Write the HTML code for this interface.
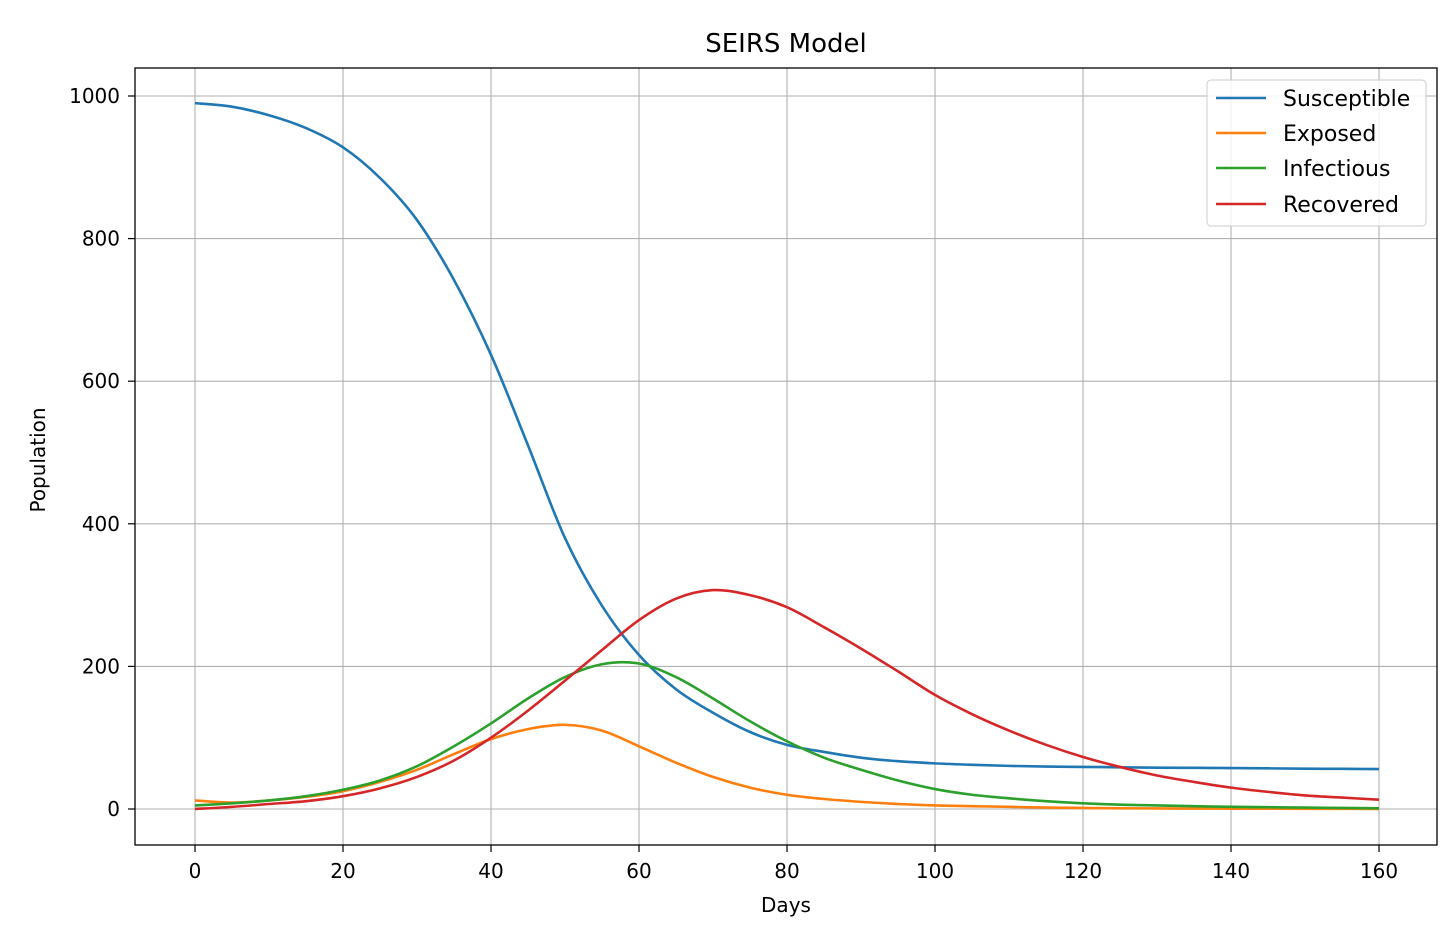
<!DOCTYPE html>
<html><head><meta charset="utf-8"><style>
body{margin:0;background:#fff}
svg text{font-family:"DejaVu Sans","Liberation Sans",sans-serif;fill:#000}
</style></head><body>
<svg id="s" width="1450" height="925" xmlns="http://www.w3.org/2000/svg">
<rect width="1450" height="925" fill="#fff"/>
<g id="grid" stroke="#b0b0b0" stroke-width="1.1"></g>
<g id="curves" fill="none" stroke-width="2.6"></g>
<rect x="135" y="68" width="1302" height="777" fill="none" stroke="#000" stroke-width="1.3"/>
<g id="ticks" stroke="#000" stroke-width="1.2"></g>
<g id="labels" font-size="20"></g>
<text x="786" y="52" font-size="26" text-anchor="middle">SEIRS Model</text>
<text x="786" y="912" font-size="20" text-anchor="middle">Days</text>
<text transform="translate(45,460) rotate(-90)" font-size="20" text-anchor="middle">Population</text>
<g>
<rect x="1207" y="80" width="219" height="146" rx="4" fill="#fff" fill-opacity="0.85" stroke="#ccc"/>
<line x1="1216" y1="98" x2="1266" y2="98" stroke="#1f77b4" stroke-width="2.6"/>
<line x1="1216" y1="133" x2="1266" y2="133" stroke="#ff7f0e" stroke-width="2.6"/>
<line x1="1216" y1="168" x2="1266" y2="168" stroke="#2ca02c" stroke-width="2.6"/>
<line x1="1216" y1="204" x2="1266" y2="204" stroke="#d62728" stroke-width="2.6"/>
<text x="1283" y="106" font-size="22">Susceptible</text>
<text x="1283" y="141" font-size="22">Exposed</text>
<text x="1283" y="176" font-size="22">Infectious</text>
<text x="1283" y="212" font-size="22">Recovered</text>
</g>
</svg>
<script>
const X=d=>195+d*7.4, Y=v=>809-v*0.713;
const ns="http://www.w3.org/2000/svg";
function el(p,t,a,txt){const e=document.createElementNS(ns,t);for(const k in a)e.setAttribute(k,a[k]);if(txt!=null)e.textContent=txt;document.getElementById(p).appendChild(e);}
for(let d=0;d<=160;d+=20){el("grid","line",{x1:X(d),x2:X(d),y1:68,y2:845});el("ticks","line",{x1:X(d),x2:X(d),y1:845,y2:852});el("labels","text",{x:X(d),y:878,"text-anchor":"middle"},d);}
for(let v=0;v<=1000;v+=200){el("grid","line",{x1:135,x2:1437,y1:Y(v),y2:Y(v)});el("ticks","line",{x1:128,x2:135,y1:Y(v),y2:Y(v)});el("labels","text",{x:120,y:Y(v)+7,"text-anchor":"end"},v);}
// values every 5 days, 0..160 (33 points)
const S=[990,985,973,955,928,885,826,742,637,510,380,285,216,168,135,108,90,80,72,67,64,62,60.5,59.5,59,58.5,58,57.7,57.4,57,56.6,56.3,56];
const E=[12,9,12,17,25,38,55,77,98,112,118,110,88,65,45,30,20,14,10,7,5,4,3,2,1.5,1,0.8,0.6,0.5,0.4,0.3,0.2,0.1];
const I=[5,8,12,18,27,40,60,88,120,155,185,203,204,185,155,123,95,72,55,40,28,20,15,11,8,6,5,4,3,2.5,2,1.5,1];
const R=[0,3,7,11,18,29,45,68,100,138,180,223,265,295,307,300,283,255,225,193,160,133,110,90,73,59,47,38,30,24,19,16,13];
function path(v){const p=v.map((y,i)=>[X(i*5),Y(y)]);let d=`M${p[0][0]},${p[0][1]}`;
for(let i=0;i<p.length-1;i++){const p0=p[Math.max(0,i-1)],p1=p[i],p2=p[i+1],p3=p[Math.min(p.length-1,i+2)];
d+=`C${p1[0]+(p2[0]-p0[0])/6},${p1[1]+(p2[1]-p0[1])/6} ${p2[0]-(p3[0]-p1[0])/6},${p2[1]-(p3[1]-p1[1])/6} ${p2[0]},${p2[1]}`;}return d;}
[[S,"#1f77b4"],[E,"#ff7f0e"],[I,"#2ca02c"],[R,"#d62728"]].forEach(([p,c])=>el("curves","path",{d:path(p),stroke:c}));
</script>
</body></html>
